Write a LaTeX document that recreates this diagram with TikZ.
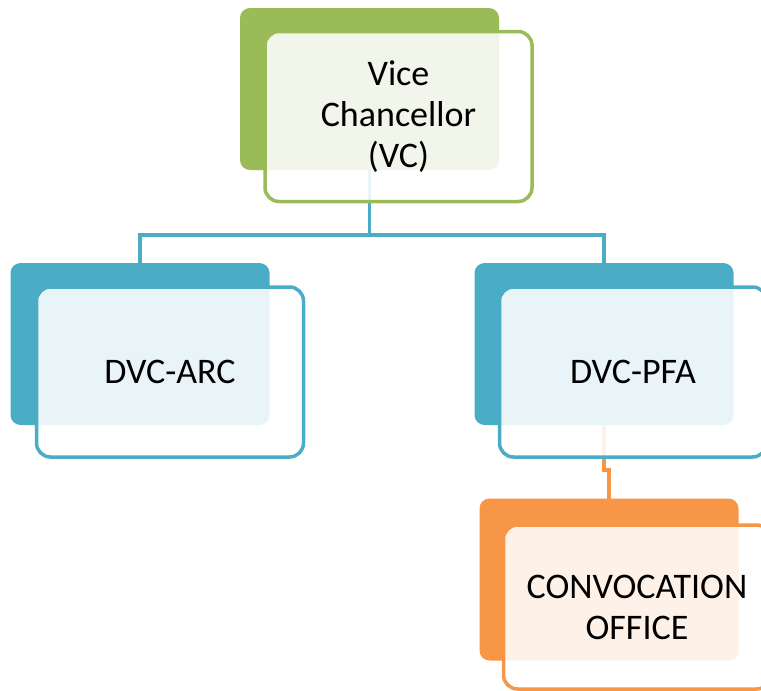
\documentclass[tikz,border=0pt]{standalone}
\usepackage{fontspec}
\setmainfont{Carlito}
\usepackage{tikz}
\usetikzlibrary{calc}
\definecolor{vcgreen}{HTML}{9BBB59}
\definecolor{dvcblue}{HTML}{4BACC6}
\definecolor{convorange}{HTML}{F79646}
\tikzset{
  backbox/.style={rectangle, rounded corners=10pt, fill=#1, minimum width=259pt, minimum height=162pt, inner sep=0pt, outer sep=0pt},
  frontbox/.style={rectangle, rounded corners=14pt, draw=#1, line width=3.5pt, fill=white, fill opacity=0.88, text opacity=1, minimum width=267pt, minimum height=170pt, inner sep=0pt, outer sep=0pt, align=center, font=\fontsize{36}{41}\selectfont},
  link/.style={draw=#1, line width=3.5pt}
}
\begin{document}
\begin{tikzpicture}[x=1pt,y=-1pt]
				\clip (0,0) rectangle (761,691);
				\node[backbox=vcgreen] (vcb) at (369.5,89) {};
				\node[backbox=dvcblue] (arcb) at (140,344) {};
				\node[backbox=dvcblue] (pfab) at (604,344) {};
				\node[backbox=convorange] (convb) at (609,579.5) {};
				\draw[link=dvcblue] (vcb.south) -- ++(0,65) -| (arcb.north);
				\draw[link=dvcblue] (vcb.south) -- ++(0,65) -| (pfab.north);
				\draw[link=convorange] (pfab.south) -- ++(0,45) -| (convb.north);
				\node[frontbox=vcgreen] (vc) at (398.5,116.5) {Vice\\Chancellor\\(VC)};
				\node[frontbox=dvcblue] (arc) at (170,372) {DVC-ARC};
				\node[frontbox=dvcblue] (pfa) at (633,372) {DVC-PFA};
				\node[frontbox=convorange, minimum height=164pt] (conv) at (637,607) {CONVOCATION\\OFFICE};
\end{tikzpicture}
\end{document}
